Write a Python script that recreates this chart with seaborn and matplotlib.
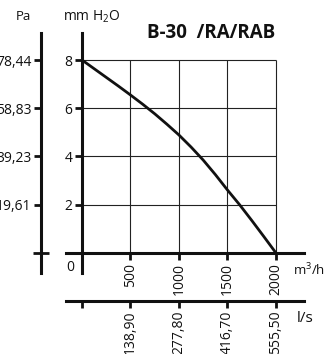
import pandas as pd
import matplotlib.pyplot as plt
import seaborn as sns

# fan curve (m3/h vs mm H2O)
flow_m3h = [0, 125, 250, 375, 500, 625, 750, 875, 1000, 1125, 1250, 1375, 1500, 1625, 1750, 1875, 2000]
press_mm = [8.0, 7.64, 7.28, 6.92, 6.55, 6.17, 5.77, 5.34, 4.89, 4.39, 3.85, 3.25, 2.61, 2.0, 1.35, 0.68, 0.0]
x_ticks = [500, 1000, 1500, 2000]
y_ticks = [2, 4, 6, 8]
pa_ticks = [19.61, 39.23, 58.83, 78.44]
pa_labels = ['19,61', '39,23', '58,83', '78,44']
ls_ticks = [0, 138.9, 277.8, 416.7, 555.5]
ls_labels = ['', '138,90', '277,80', '416,70', '555,50']
title = 'B-30  /RA/RAB'

df = pd.DataFrame({'flow': flow_m3h, 'press': press_mm})

sns.set_theme(style='white')
plt.rcParams['font.family'] = ['Open Sans', 'DejaVu Sans']
plt.rcParams['mathtext.default'] = 'regular'

W, H = 327, 354
fig = plt.figure(figsize=(W / 100, H / 100), dpi=100)
ax = fig.add_axes([66 / W, (H - 273) / H, (304 - 66) / W, (273 - 33) / H])
ax.patch.set_visible(False)

xlim = (-165, 2289)
ylim = (-0.83, 9.12)
ax.set_xlim(xlim)
ax.set_ylim(ylim)

# grid box
ax.hlines(y_ticks, 0, 2000, color='#222222', lw=0.8, zorder=1)
ax.vlines(x_ticks, 0, 8, color='#222222', lw=0.8, zorder=1)

sns.lineplot(data=df, x='flow', y='press', ax=ax, color='#111111', lw=2.0, zorder=3)
ax.set_xlabel('')
ax.set_ylabel('')

for s in ['top', 'right']:
    ax.spines[s].set_visible(False)
ax.spines['left'].set_position(('data', 0))
ax.spines['bottom'].set_position(('data', 0))
for s in ['left', 'bottom']:
    ax.spines[s].set_linewidth(2.2)
    ax.spines[s].set_color('#111111')
    ax.spines[s].set_zorder(4)

ax.set_xticks(x_ticks)
ax.set_xticklabels([str(v) for v in x_ticks], rotation=90)
ax.set_yticks(y_ticks)
ax.set_yticklabels([str(v) for v in y_ticks])
ax.tick_params(axis='both', direction='out', length=5, width=2, color='#111111',
               labelsize=10, pad=2, labelcolor='#111111')
ax.text(-124, -0.62, '0', fontsize=10, ha='center', va='center', color='#111111')

# Pa axis
ax2 = ax.twinx()
ax2.set_ylim(ylim[0] * 9.805, ylim[1] * 9.805)
for s in ['top', 'right', 'bottom']:
    ax2.spines[s].set_visible(False)
ax2.spines['left'].set_visible(True)
ax2.spines['left'].set_position(('axes', (41 - 66) / 238))
ax2.spines['left'].set_linewidth(2.2)
ax2.spines['left'].set_color('#111111')
ax2.yaxis.set_ticks_position('left')
ax2.yaxis.set_label_position('left')
ax2.set_yticks(pa_ticks)
ax2.set_yticklabels(pa_labels)
ax2.set_yticks([0], minor=True)
ax2.tick_params(axis='y', which='major', direction='out', length=5, width=2,
                color='#111111', labelsize=10, pad=2, labelcolor='#111111')
ax2.tick_params(axis='y', which='minor', direction='inout', length=11, width=2,
                color='#111111')

# l/s axis
ax3 = ax.twiny()
ax3.set_xlim(xlim[0] / 3.6, xlim[1] / 3.6)
for s in ['top', 'right', 'left']:
    ax3.spines[s].set_visible(False)
ax3.spines['bottom'].set_visible(True)
ax3.spines['bottom'].set_position(('axes', (273 - 301) / 240))
ax3.spines['bottom'].set_linewidth(2.2)
ax3.spines['bottom'].set_color('#111111')
ax3.xaxis.set_ticks_position('bottom')
ax3.xaxis.set_label_position('bottom')
ax3.set_xticks(ls_ticks)
ax3.set_xticklabels(ls_labels, rotation=90)
ax3.tick_params(axis='x', direction='out', length=5, width=2, color='#111111',
                labelsize=10, pad=2, labelcolor='#111111')

# labels
fig.text(23 / W, 1 - 17 / H, 'Pa', fontsize=9.5, ha='center', va='center', color='#111111')
fig.text(92 / W, 1 - 17 / H, 'mm H$_2$O', fontsize=10, ha='center', va='center', color='#111111')
fig.text(147 / W, 1 - 33 / H, title, fontsize=13.5, fontweight='bold', ha='left', va='center',
         color='#111111')
fig.text(293 / W, 1 - 270 / H, 'm$^3$/h', fontsize=9.5, ha='left', va='center', color='#111111')
fig.text(297 / W, 1 - 319 / H, 'l/s', fontsize=11, ha='left', va='center', color='#111111')

fig.savefig('out.png', dpi=100)
